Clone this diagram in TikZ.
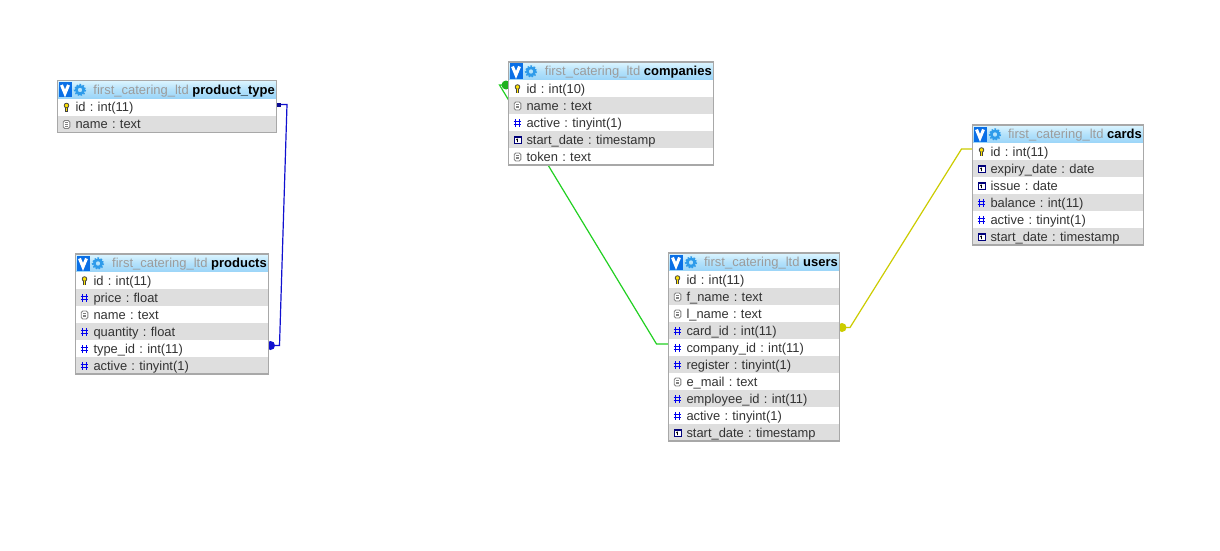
\documentclass[tikz,border=0pt]{standalone}
\usepackage{fontspec}
\setmainfont{Liberation Sans}
\frenchspacing
\usetikzlibrary{backgrounds,calc}
\definecolor{rowgray}{HTML}{DEDEDE}
\definecolor{boxgray}{HTML}{A8A8A8}
\definecolor{hdrtop}{HTML}{DDF5FF}
\definecolor{hdrmid}{HTML}{B4E2FB}
\definecolor{hdrbot}{HTML}{9AD4F8}
\definecolor{iconblue}{HTML}{0A6FE6}
\definecolor{gearblue}{HTML}{2E9BEA}
\definecolor{schemagray}{HTML}{9C9C9C}
\definecolor{hashblue}{HTML}{0000F0}
\definecolor{linkblue}{HTML}{1010D0}
\definecolor{linkgreen}{HTML}{22D022}
\definecolor{linkyellow}{HTML}{CCCC00}
\definecolor{rowtext}{HTML}{333333}
\tikzset{
  x=1pt,y=-1pt,
  rowcell/.style={draw=none,inner sep=0pt,outer sep=0pt,minimum height=17pt,anchor=north west,
    font=\fontsize{12.9}{14}\selectfont,text=rowtext,align=left,text height=10.5pt,text depth=1.5pt},
  hdrcell/.style={draw=none,inner sep=0pt,outer sep=0pt,minimum height=18pt,anchor=north west,
    top color=hdrtop,bottom color=hdrbot,middle color=hdrmid},
  hdrtitle/.style={inner sep=0pt,anchor=east,font=\fontsize{13}{14}\selectfont,text height=10.5pt,text depth=1.5pt},
  tableframe/.style={draw=boxgray,line width=1.1pt},
  linkline/.style={line width=1.2pt,line join=miter},
  pics/hash/.style={code={
    \draw[hashblue,line width=1.3pt] (-1.7,-4)--(-1.7,4) (1.7,-4)--(1.7,4) (-3.8,-1.6)--(3.8,-1.6) (-3.8,1.7)--(3.8,1.7);}},
  pics/doc/.style={code={
    \draw[gray,line width=.9pt,rounded corners=1.5pt,fill=white] (-3.3,-4) rectangle (3.3,4);
    \draw[gray,line width=.8pt] (-1.7,-1.7)--(1.7,-1.7) (-1.7,0)--(1.7,0) (-1.7,1.7)--(1.7,1.7);}},
  pics/datei/.style={code={
    \draw[black!20!blue!60!black,line width=.8pt,fill=white] (-3.5,-3.5) rectangle (3.5,3.5);
    \fill[black!20!blue!60!black] (-3.5,-3.5) rectangle (3.5,-2.2);
    \draw[black,line width=.9pt] (0,-1.2)--(0,2) (-1.2,-.2)--(0,-1.2);}},
  pics/keyicon/.style={code={
    \draw[black!75,line width=.8pt,fill=yellow!85!orange] (0,-2) circle (2.3);
    \draw[black!75,line width=3pt] (0,0)--(0,4.2);
    \draw[yellow!85!orange,line width=1.2pt] (0,0)--(0,3.8);}},
  pics/vicon/.style={code={
    \fill[iconblue] (0,0) rectangle (13,15);
    \draw[white,line width=3pt] (3,3)--(6.5,11.5)--(10,3);}},
  pics/gearicon/.style={code={
    \draw[gearblue,line width=2.6pt] (0,0) circle (3.7);
    \draw[gearblue,line width=1.4pt,dash pattern=on 1.6pt off 1.5pt] (0,0) circle (5.5);}},
}
% id, x, y, width, table name, rows (icon/text)
\newcommand{\dbtable}[6]{%
  \node[hdrcell,minimum width=#4pt] (#1-h) at (#2,#3) {};
  \pic at ($(#1-h.north west)+(1,1.5)$) {vicon};
  \pic at ($(#1-h.north west)+(22.5,9.5)$) {gearicon};
  \node[hdrtitle] (#1-t) at ($(#1-h.east)+(-1.5,.2)$) {\textcolor{schemagray}{first\_catering\_ltd} \textbf{\textcolor{black}{#5}}};
  \foreach \ic/\tx [count=\i] in {#6} {
    \pgfmathtruncatemacro{\rowodd}{mod(\i,2)}
    \ifnum\rowodd=1 \def\rowfill{white}\else \def\rowfill{rowgray}\fi
    \node[rowcell,fill=\rowfill,minimum width=#4pt,text width=#4pt] (#1-\i) at (#2,#3+18+\i*17-17) {\hspace*{18pt}\tx};
    \pic at ($(#1-\i.west)+(9,.5)$) {\ic};
    \xdef\lastrow{#1-\i}
  }
  \draw[tableframe] (#1-h.north west) rectangle (\lastrow.south east);
}
\begin{document}
\begin{tikzpicture}
\useasboundingbox (0,0) rectangle (1220,551);
\dbtable{pt}{57.5}{80.5}{219}{product\_type}{keyicon/id : int(11),doc/name : text}
\dbtable{pr}{75.5}{254}{193}{products}{keyicon/id : int(11),hash/price : float,doc/name : text,hash/quantity : float,hash/type\_id : int(11),hash/active : tinyint(1)}
\dbtable{co}{508.5}{62}{205}{companies}{keyicon/id : int(10),doc/name : text,hash/active : tinyint(1),datei/start\_date : timestamp,doc/token : text}
\dbtable{us}{668.5}{253}{171}{users}{keyicon/id : int(11),doc/f\_name : text,doc/l\_name : text,hash/card\_id : int(11),hash/company\_id : int(11),hash/register : tinyint(1),doc/e\_mail : text,hash/employee\_id : int(11),hash/active : tinyint(1),datei/start\_date : timestamp}
\dbtable{ca}{972.5}{125}{171}{cards}{keyicon/id : int(11),datei/expiry\_date : date,datei/issue : date,hash/balance : int(11),hash/active : tinyint(1),datei/start\_date : timestamp}
\begin{pgfonlayer}{background}
  \fill[white] (0,0) rectangle (1220,551);
  % product_type.id -> products.type_id
  \coordinate (b0) at ($(pt-1.east)+(1,-2.5)$);
  \coordinate (b1) at ($(pt-1.east)+(10.5,-2.5)$);
  \coordinate (b3) at ($(pr-5.east)+(0,-3)$);
  \coordinate (b2) at ($(b3)+(11,0)$);
  \draw[linkline,linkblue] (b0)--(b1)--(b2)--(b3);
  \fill[linkblue!70!black] ($(b0)+(-1,-2)$) rectangle ($(b0)+(3,2)$);
  \fill[linkblue] ($(b3)+(2,0)$) circle (4.5);
  % companies.id -> users.company_id
  \coordinate (g0) at ($(co-1.west)+(0,-3.5)$);
  \coordinate (g1) at ($(g0)+(-9,0)$);
  \coordinate (g3) at ($(us-5.west)+(0,-3.5)$);
  \coordinate (g2) at ($(g3)+(-12,0)$);
  \draw[linkline,linkgreen] (g0)--(g1)--(g2)--(g3);
  \fill[linkgreen!85!black] ($(g0)+(-2.5,0)$) circle (4.5);
  % cards.id -> users.card_id
  \coordinate (y0) at ($(ca-1.west)+(0,-2.5)$);
  \coordinate (y1) at ($(y0)+(-11,0)$);
  \coordinate (y3) at ($(us-4.east)+(0,-3)$);
  \coordinate (y2) at ($(y3)+(10.5,0)$);
  \draw[linkline,linkyellow] (y0)--(y1)--(y2)--(y3);
  \fill[linkyellow] ($(y3)+(2.5,0)$) circle (4.5);
\end{pgfonlayer}
\end{tikzpicture}
\end{document}
